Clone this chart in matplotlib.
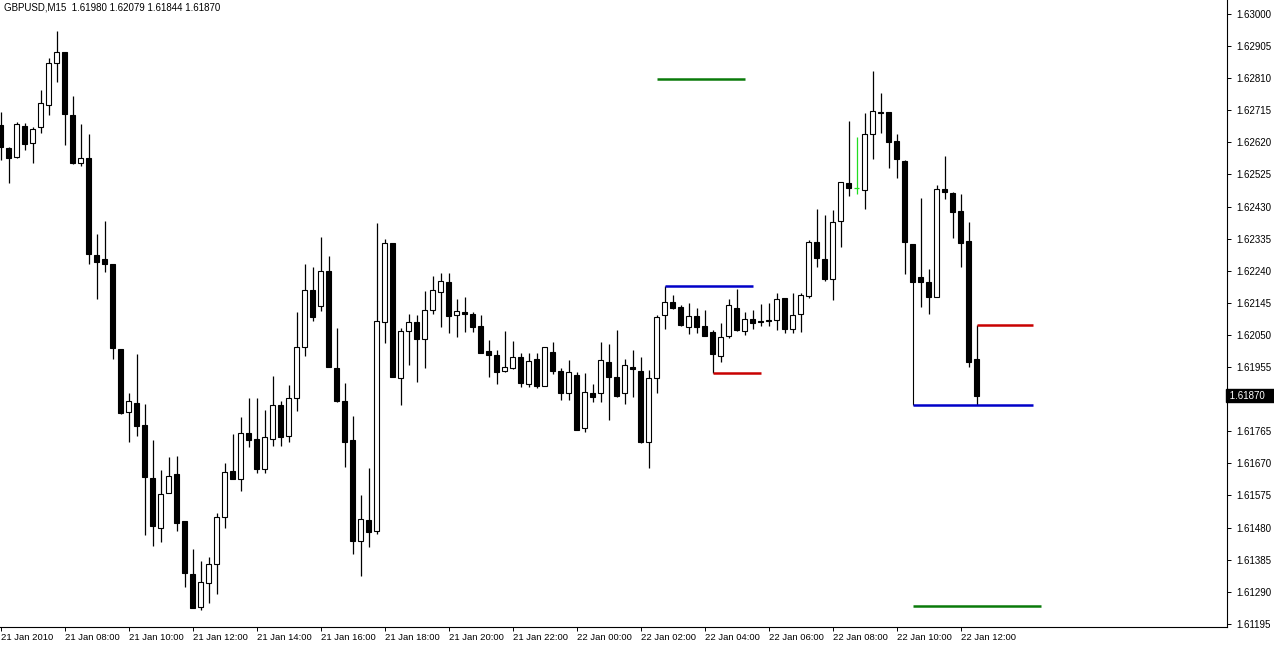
import numpy as np
import matplotlib
matplotlib.use('Agg')
import matplotlib.pyplot as plt
import matplotlib.transforms as mtransforms

# GBPUSD M15 candles, 21 Jan 2010 06:00 -> 22 Jan 2010 12:30
opens = [
    1.62671, 1.62602, 1.62578, 1.62668, 1.62617, 1.62666, 1.62731, 1.62854, 1.62887, 1.62701,
    1.62558, 1.62573, 1.62287, 1.62274, 1.62260, 1.62008, 1.61821, 1.61848, 1.61783, 1.61626,
    1.61479, 1.61581, 1.61638, 1.61499, 1.61342, 1.61246, 1.61315, 1.61371, 1.61510, 1.61647,
    1.61624, 1.61760, 1.61742, 1.61653, 1.61741, 1.61843, 1.61752, 1.61862, 1.62013, 1.62183,
    1.62137, 1.62239, 1.61951, 1.61854, 1.61739, 1.61441, 1.61502, 1.61471, 1.62087, 1.62321,
    1.61922, 1.62062, 1.62088, 1.62039, 1.62123, 1.62176, 1.62206, 1.62109, 1.62117, 1.62112,
    1.62076, 1.62003, 1.61991, 1.61943, 1.61953, 1.61984, 1.61905, 1.61979, 1.61900, 1.61999,
    1.61942, 1.61877, 1.61931, 1.61774, 1.61877, 1.61877, 1.61970, 1.61925, 1.61877, 1.61954,
    1.61943, 1.61734, 1.61922, 1.62109, 1.62147, 1.62132, 1.62073, 1.62106, 1.62076, 1.62060,
    1.61988, 1.62048, 1.62129, 1.62063, 1.62096, 1.62091, 1.62091, 1.62094, 1.62160, 1.62067,
    1.62111, 1.62166, 1.62324, 1.62274, 1.62216, 1.62388, 1.62499, 1.62484, 1.62479, 1.62644,
    1.62709, 1.62711, 1.62624, 1.62566, 1.62318, 1.62221, 1.62206, 1.62161, 1.62481, 1.62471,
    1.62418, 1.62329, 1.61980]
highs = [
    1.62709, 1.62606, 1.62679, 1.62676, 1.62666, 1.62775, 1.62869, 1.62950, 1.62887, 1.62757,
    1.62674, 1.62645, 1.62349, 1.62387, 1.62260, 1.62008, 1.61877, 1.61994, 1.61846, 1.61739,
    1.61650, 1.61690, 1.61692, 1.61499, 1.61416, 1.61381, 1.61394, 1.61522, 1.61670, 1.61757,
    1.61808, 1.61862, 1.61862, 1.61828, 1.61928, 1.61854, 1.61902, 1.62117, 1.62260, 1.62250,
    1.62341, 1.62284, 1.62070, 1.61907, 1.61810, 1.61576, 1.61655, 1.62381, 1.62333, 1.62321,
    1.62071, 1.62112, 1.62109, 1.62180, 1.62224, 1.62232, 1.62232, 1.62156, 1.62161, 1.62119,
    1.62109, 1.62035, 1.62005, 1.62062, 1.62032, 1.61996, 1.61997, 1.61996, 1.62013, 1.62028,
    1.61952, 1.61976, 1.61939, 1.61936, 1.61904, 1.62028, 1.62022, 1.62065, 1.61978, 1.62005,
    1.61986, 1.61946, 1.62109, 1.62196, 1.62168, 1.62139, 1.62144, 1.62131, 1.62124, 1.62065,
    1.62086, 1.62156, 1.62186, 1.62119, 1.62124, 1.62142, 1.62144, 1.62173, 1.62160, 1.62173,
    1.62173, 1.62331, 1.62423, 1.62405, 1.62420, 1.62502, 1.62683, 1.62635, 1.62708, 1.62831,
    1.62767, 1.62711, 1.62645, 1.62568, 1.62318, 1.62454, 1.62244, 1.62494, 1.62581, 1.62474,
    1.62467, 1.62385, 1.62079]
lows = [
    1.62568, 1.62499, 1.62573, 1.62597, 1.62558, 1.62647, 1.62701, 1.62798, 1.62612, 1.62555,
    1.62551, 1.62259, 1.62156, 1.62237, 1.61978, 1.61816, 1.61734, 1.61752, 1.61458, 1.61426,
    1.61438, 1.61581, 1.61471, 1.61305, 1.61241, 1.61236, 1.61256, 1.61282, 1.61478, 1.61623,
    1.61589, 1.61718, 1.61640, 1.61640, 1.61722, 1.61722, 1.61732, 1.61826, 1.61989, 1.62092,
    1.62122, 1.61956, 1.61851, 1.61658, 1.61402, 1.61337, 1.61421, 1.61461, 1.62025, 1.61925,
    1.61843, 1.61961, 1.61912, 1.61953, 1.62111, 1.62074, 1.62057, 1.62043, 1.62060, 1.62060,
    1.61996, 1.61925, 1.61905, 1.61941, 1.61948, 1.61897, 1.61897, 1.61892, 1.61900, 1.61934,
    1.61857, 1.61857, 1.61769, 1.61762, 1.61852, 1.61852, 1.61798, 1.61865, 1.61845, 1.61867,
    1.61731, 1.61655, 1.61877, 1.62067, 1.62126, 1.62077, 1.62052, 1.62057, 1.62048, 1.61936,
    1.61971, 1.62042, 1.62062, 1.62050, 1.62068, 1.62077, 1.62077, 1.62065, 1.62057, 1.62055,
    1.62058, 1.62158, 1.62250, 1.62211, 1.62153, 1.62309, 1.62462, 1.62466, 1.62422, 1.62570,
    1.62647, 1.62543, 1.62514, 1.62230, 1.62208, 1.62132, 1.62111, 1.62161, 1.62452, 1.62338,
    1.62252, 1.61956, 1.61844]
closes = [
    1.62607, 1.62573, 1.62674, 1.62614, 1.62659, 1.62736, 1.62854, 1.62887, 1.62703, 1.62558,
    1.62573, 1.62289, 1.62267, 1.62259, 1.62010, 1.61820, 1.61854, 1.61781, 1.61630, 1.61485,
    1.61578, 1.61632, 1.61494, 1.61346, 1.61241, 1.61320, 1.61371, 1.61510, 1.61643, 1.61623,
    1.61759, 1.61738, 1.61653, 1.61747, 1.61843, 1.61747, 1.61862, 1.62013, 1.62183, 1.62104,
    1.62240, 1.61956, 1.61854, 1.61732, 1.61441, 1.61504, 1.61466, 1.62091, 1.62321, 1.61925,
    1.62062, 1.62088, 1.62039, 1.62123, 1.62182, 1.62210, 1.62107, 1.62121, 1.62111, 1.62074,
    1.61997, 1.61991, 1.61941, 1.61956, 1.61984, 1.61909, 1.61973, 1.61900, 1.62013, 1.61944,
    1.61877, 1.61939, 1.61769, 1.61882, 1.61867, 1.61976, 1.61926, 1.61869, 1.61961, 1.61948,
    1.61734, 1.61922, 1.62102, 1.62147, 1.62131, 1.62079, 1.62107, 1.62073, 1.62048, 1.61993,
    1.62043, 1.62139, 1.62065, 1.62096, 1.62084, 1.62087, 1.62094, 1.62156, 1.62067, 1.62109,
    1.62168, 1.62324, 1.62277, 1.62216, 1.62385, 1.62502, 1.62484, 1.62484, 1.62644, 1.62713,
    1.62706, 1.62622, 1.62570, 1.62324, 1.62208, 1.62208, 1.62161, 1.62481, 1.62472, 1.62415,
    1.62323, 1.61971, 1.61870]

# horizontal levels drawn on the chart (price, first bar, last bar, colour)
level_prices = [1.62808, 1.62196, 1.61936, 1.61844, 1.62079, 1.61248]
level_start = [82, 83, 89, 114, 122, 114]
level_end = [93, 94, 95, 129, 129, 130]
level_colors = ['#0a7a0a', '#0000c8', '#c80000', '#0000c8', '#c80000', '#0a7a0a']

# axis ticks
y_ticks = [1.61195, 1.61290, 1.61385, 1.61480, 1.61575, 1.61670, 1.61765, 1.61860,
           1.61955, 1.62050, 1.62145, 1.62240, 1.62335, 1.62430, 1.62525, 1.62620,
           1.62715, 1.62810, 1.62905, 1.63000]
x_tick_bars = [0, 8, 16, 24, 32, 40, 48, 56, 64, 72, 80, 88, 96, 104, 112, 120]
x_tick_labels = ['21 Jan 2010', '21 Jan 08:00', '21 Jan 10:00', '21 Jan 12:00',
                 '21 Jan 14:00', '21 Jan 16:00', '21 Jan 18:00', '21 Jan 20:00',
                 '21 Jan 22:00', '22 Jan 00:00', '22 Jan 02:00', '22 Jan 04:00',
                 '22 Jan 06:00', '22 Jan 08:00', '22 Jan 10:00', '22 Jan 12:00']

plt.rcParams['font.family'] = ['Liberation Sans', 'DejaVu Sans']

o = np.array(opens)
h = np.array(highs)
l = np.array(lows)
c = np.array(closes)
idx = np.arange(len(o))

fig = plt.figure(figsize=(12.74, 6.48), dpi=100)
ax = fig.add_axes([0, 21 / 648, 1227 / 1274, 627 / 648])

up = c > o
down = c < o
doji = c == o

# wicks first, bodies on top
ax.vlines(idx[~doji], l[~doji], h[~doji], color='black', linewidth=0.9, zorder=2)
ax.vlines(idx[doji], l[doji], h[doji], color='#22dd22', linewidth=0.9, zorder=2)

w = 0.6
ax.bar(idx[up], c[up] - o[up], bottom=o[up], width=w, color='white',
       edgecolor='black', linewidth=0.8, zorder=3)
ax.bar(idx[down], o[down] - c[down], bottom=c[down], width=w, color='black',
       edgecolor='black', linewidth=0.8, zorder=3)
ax.hlines(o[doji], idx[doji] - w / 2, idx[doji] + w / 2, color='#22dd22', linewidth=0.9, zorder=3)

# level lines
for p, s, e, col in zip(level_prices, level_start, level_end, level_colors):
    ax.hlines(p, s, e, color=col, linewidth=1.8, zorder=4)
# connector from the bar down to the lower blue level
ax.vlines(level_start[3], level_prices[3], l[level_start[3]], color='black', linewidth=0.8, zorder=2)

ax.set_xlim(-0.1, -0.1 + 1227 / 8)
ax.set_ylim(1.611855, 1.630414)

ax.spines['top'].set_visible(False)
ax.spines['left'].set_visible(False)
ax.spines['right'].set_linewidth(0.8)
ax.spines['bottom'].set_linewidth(0.8)

# the tick label under the current-price box is hidden by it in MT4
hidden_tick = 1.61860
ax.yaxis.tick_right()
ax.set_yticks(y_ticks)
ax.set_yticklabels(['' if v == hidden_tick else '%.5f' % v for v in y_ticks])
ax.tick_params(axis='y', length=3, width=0.7, labelsize=7, pad=4)

ax.set_xticks(x_tick_bars)
ax.set_xticklabels(x_tick_labels)
ax.tick_params(axis='x', length=3, width=0.7, labelsize=6.8, pad=1)
for lbl in ax.get_xticklabels():
    lbl.set_ha('left')

# current price marker on the price scale
trans = mtransforms.blended_transform_factory(ax.transAxes, ax.transData)
ax.text(1.0, closes[-1], ' %.5f    ' % closes[-1], transform=trans, color='white',
        fontsize=7, va='center', ha='left', zorder=10, clip_on=False,
        bbox=dict(boxstyle='square,pad=0.15', facecolor='black', edgecolor='black'))

fig.text(4 / 1274, 1 - 7 / 648, 'GBPUSD,M15  %.5f %.5f %.5f %.5f' % (opens[-1], highs[-1], lows[-1], closes[-1]),
         fontsize=7, va='center', ha='left')

fig.savefig('out.png', dpi=100)
